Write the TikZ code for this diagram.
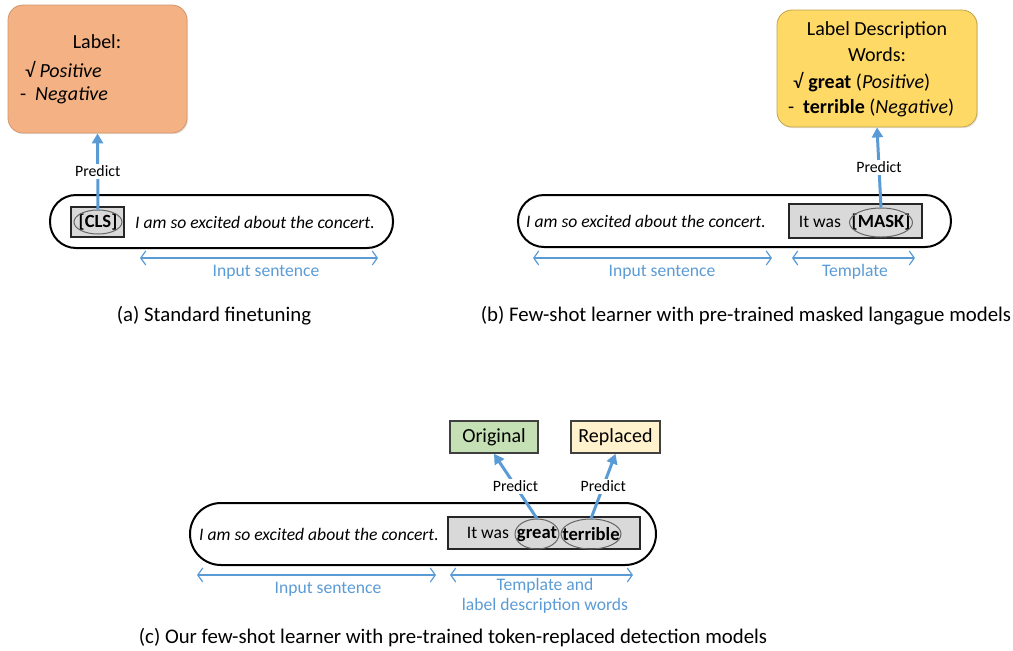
\documentclass[tikz,border=0pt]{standalone}
\usepackage{fontspec}
\setmainfont{Carlito}
\usetikzlibrary{arrows.meta,fit,shadows}

\definecolor{lblorange}{HTML}{F4B183}
\definecolor{lblyellow}{HTML}{FFD966}
\definecolor{orggreen}{HTML}{C5E0B4}
\definecolor{repcream}{HTML}{FFF2CC}
\definecolor{tmplgray}{HTML}{D9D9D9}
\definecolor{arrblue}{HTML}{5B9BD5}

\begin{document}
\begin{tikzpicture}[x=0.5pt,y=-0.5pt,
  capsule/.style={draw=black,line width=1pt,inner sep=0pt},
  tmpl/.style={draw=black!85,fill=tmplgray,line width=1pt,inner sep=0pt},
  tok/.style={inner sep=0pt,font=\fontsize{9.3}{10}\selectfont\bfseries},
  tokring/.style={draw=black!60,line width=0.5pt},
  lblbox/.style={rounded corners=7.5pt,line width=0.4pt,inner sep=0pt,
    drop shadow={shadow xshift=0.6pt,shadow yshift=-0.6pt,opacity=0.2}},
  outbox/.style={draw=black!75,line width=0.8pt,inner sep=0pt,font=\fontsize{10}{12}\selectfont},
  sent/.style={font=\fontsize{8.8}{10}\selectfont\itshape},
  lbltxt/.style={font=\fontsize{10}{12}\selectfont},
  pred/.style={draw=arrblue,line width=1.5pt,-{Triangle[length=5pt,width=5.5pt]}},
  predtxt/.style={fill=white,inner sep=1pt,font=\fontsize{7.9}{9}\selectfont},
  span/.style={draw=arrblue,line width=0.6pt,{Straight Barb[length=2.5pt,width=7pt]}-{Straight Barb[length=2.5pt,width=7pt]}},
  spantxt/.style={text=arrblue,font=\fontsize{8.8}{10}\selectfont},
  capt/.style={font=\fontsize{10.4}{12}\selectfont}]
\useasboundingbox (0,0) rectangle (1013,650);

% (a) standard finetuning
\node[lblbox,fill=lblorange,draw=lblorange!85!black,fit={(8,5) (187,133)}] (lbla) {};
\node[lbltxt] at (97,42) {Label:};
\node[lbltxt,anchor=west] at (18,69) {√ \textit{Positive}};
\node[lbltxt,anchor=west] at (13,95) {-\ \ \textit{Negative}};
\node[capsule,rounded corners=13pt,fit={(50,195) (393,248)}] (capa) {};
\node[tmpl,fit={(71,207) (124,237)}] (clsbox) {};
\node[tok,minimum height=12pt] (cls) at (98,222) {[CLS]};
\draw[tokring] (cls.center) ellipse [x radius=12pt,y radius=6pt];
\node[sent] (senta) at (255,222) {I am so excited about the concert.};
\draw[pred] (cls.north) -- node[predtxt] {Predict} (lbla.south);
\draw[span] (140,258) -- (378,258);
\node[spantxt] at (266,272) {Input sentence};
\node[capt] at (214,316) {(a) Standard finetuning};

% (b) few-shot learner with masked LM
\node[lblbox,fill=lblyellow,draw=lblyellow!75!black,fit={(777,10) (977,127)}] (lblb) {};
\node[lbltxt] at (877,30) {Label Description};
\node[lbltxt] at (877,55) {Words:};
\node[lbltxt,anchor=west] at (786,82) {√ \textbf{great} (\textit{Positive})};
\node[lbltxt,anchor=west] at (781,108) {-\ \ \textbf{terrible} (\textit{Negative})};
\node[capsule,rounded corners=13pt,fit={(518,195) (951,247)}] (capb) {};
\node[sent] (sentb) at (646,221) {I am so excited about the concert.};
\node[tmpl,fit={(789,204) (922,238)}] (tmplb) {};
\node[tok,minimum height=14.5pt] (mask) at (881,222.5) {[MASK]};
\draw[tokring] (mask.center) ellipse [x radius=15.75pt,y radius=7.25pt];
\node[font=\fontsize{8.8}{10}\selectfont,anchor=east] at (848,222) {It was};
\draw[pred] (mask.north) -- node[predtxt] {Predict} (lblb.south);
\draw[span] (533,258) -- (772,258);
\node[spantxt] at (662,272) {Input sentence};
\draw[span] (792,258) -- (915,258);
\node[spantxt] at (855,272) {Template};
\node[capt] at (746,316) {(b) Few-shot learner with pre-trained masked langague models};

% (c) our few-shot learner with token-replaced detection
\node[outbox,fill=orggreen,fit={(450,421) (538,453)}] (orig) {};
\node[font=\fontsize{10}{12}\selectfont] at (orig.center) {Original};
\node[outbox,fill=repcream,fit={(571,421) (660,453)}] (repl) {};
\node[font=\fontsize{10}{12}\selectfont] at (repl.center) {Replaced};
\node[capsule,rounded corners=15.5pt,fit={(190,503) (656,565)}] (capc) {};
\node[sent] (sentc) at (319,534) {I am so excited about the concert.};
\node[tmpl,fit={(448,517) (640,549)}] (tmplc) {};
\node[font=\fontsize{8.8}{10}\selectfont,anchor=east] at (516,533) {It was};
\node[tok,minimum height=15pt] (great) at (537,534) {great};
\draw[tokring] (great.center) ellipse [x radius=11pt,y radius=7.5pt];
\node[tok,minimum height=15pt] (terrible) at (591,534) {terrible};
\draw[tokring] (terrible.center) ellipse [x radius=15pt,y radius=7.5pt];
\draw[pred] (great.north) -- node[predtxt] {Predict} (orig.south);
\draw[pred] (terrible.north) -- node[predtxt] {Predict} (repl.south);
\draw[span] (197,575) -- (436,575);
\node[spantxt] at (328,589) {Input sentence};
\draw[span] (450,575) -- (633,575);
\node[spantxt] at (545,586) {Template and};
\node[spantxt] at (545,606) {label description words};
\node[capt] at (453,638) {(c) Our few-shot learner with pre-trained token-replaced detection models};
\end{tikzpicture}
\end{document}
